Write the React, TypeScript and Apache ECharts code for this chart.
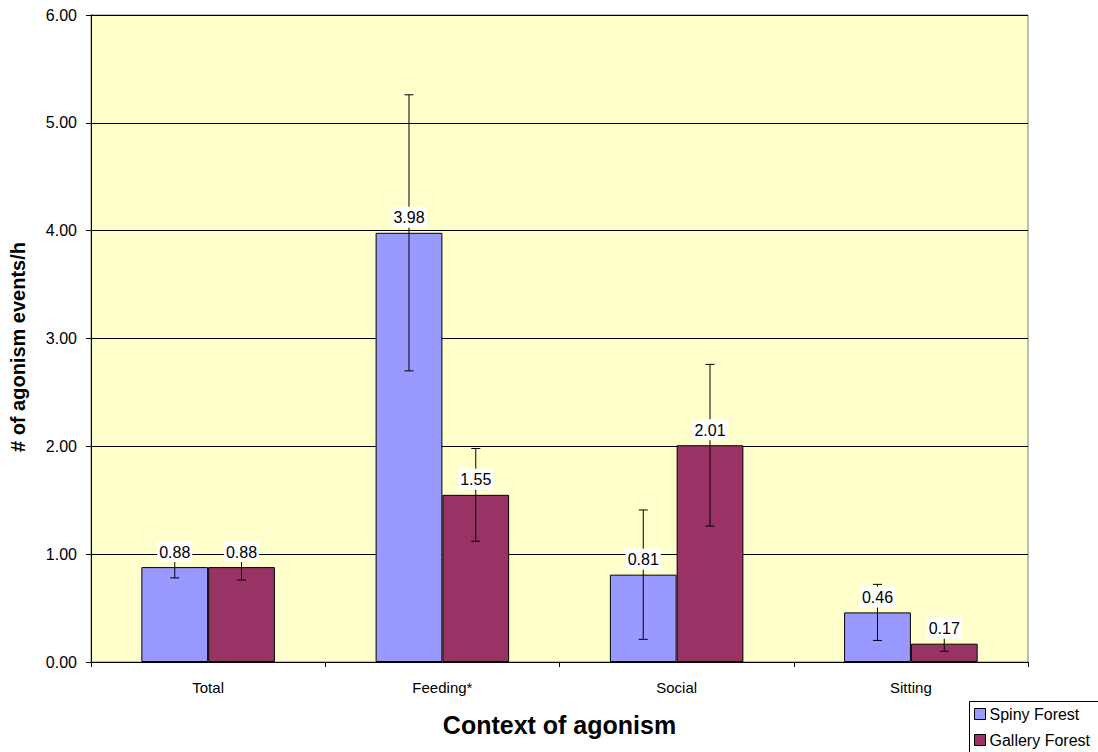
import React, { useEffect, useRef } from "react";
import * as echarts from "echarts";

const categories = ["Total", "Feeding*", "Social", "Sitting"];
const spinyValues = [0.88, 3.98, 0.81, 0.46];
const galleryValues = [0.88, 1.55, 2.01, 0.17];
const spinyErrors = [0.1, 1.28, 0.6, 0.26];
const galleryErrors = [0.12, 0.43, 0.75, 0.07];
const seriesNames = ["Spiny Forest", "Gallery Forest"];
const colors = ["#9999FF", "#993366"];
const yTitle = "# of agonism events/h";
const xTitle = "Context of agonism";

const CAT_GAP = 0.43;
const FONT = "'Liberation Sans', Arial, sans-serif";

export default function App() {
  const ref = useRef<HTMLDivElement>(null);
  useEffect(() => {
    if (!ref.current) return;
    const chart = echarts.init(ref.current, undefined, { renderer: "svg" });
    const errData: any[] = [];
    [spinyValues, galleryValues].forEach((vals, si) => {
      const errs = si === 0 ? spinyErrors : galleryErrors;
      vals.forEach((v, i) => errData.push([i, v, errs[i], si]));
    });
    const renderItem = (params: any, api: any) => {
      const ci = api.value(0);
      const v = api.value(1);
      const e = api.value(2);
      const si = api.value(3);
      const band = api.size([1, 0])[0];
      const bw = (band * (1 - CAT_GAP)) / 2;
      const center = api.coord([ci, v]);
      const x = center[0] + (si === 0 ? -bw / 2 : bw / 2);
      const yTop = api.coord([ci, v + e])[1];
      const yBot = api.coord([ci, v - e])[1];
      const yv = center[1];
      const cap = 4.5;
      const ls = { stroke: "#000", lineWidth: 1 };
      return {
        type: "group",
        children: [
          { type: "line", shape: { x1: x, y1: yTop, x2: x, y2: yBot }, style: ls },
          { type: "line", shape: { x1: x - cap, y1: yTop, x2: x + cap, y2: yTop }, style: ls },
          { type: "line", shape: { x1: x - cap, y1: yBot, x2: x + cap, y2: yBot }, style: ls },
          {
            type: "text",
            x: x,
            y: yv - 5,
            style: {
              text: v.toFixed(2),
              fill: "#000",
              fontSize: 16,
              fontFamily: FONT,
              align: "center",
              verticalAlign: "bottom",
              backgroundColor: "#ffffff",
              padding: [3, 2, 2, 2],
            },
          },
        ],
      };
    };
    chart.setOption({
      animation: false,
      textStyle: { fontFamily: FONT },
      grid: {
        left: 91,
        right: 70,
        top: 15,
        bottom: 90,
        show: true,
        backgroundColor: "#FFFFCC",
        borderColor: "#808080",
        borderWidth: 1,
      },
      graphic: [
        {
          type: "text",
          x: 18,
          y: 347,
          rotation: Math.PI / 2,
          style: {
            text: yTitle,
            fill: "#000",
            fontSize: 20,
            fontWeight: "bold",
            fontFamily: FONT,
            align: "center",
            verticalAlign: "middle",
          },
        },
        {
          type: "rect",
          z: 0,
          shape: { x: 969.5, y: 701.5, width: 140, height: 60 },
          style: { fill: "#fff", stroke: "#000", lineWidth: 1 },
        },
      ],
      legend: {
        orient: "vertical",
        left: 969,
        top: 701,
        z: 10,
        data: seriesNames,
        itemWidth: 11,
        itemHeight: 11,
        itemGap: 10,
        padding: [5, 10, 0, 5],
        icon: "rect",
        itemStyle: { borderColor: "#000", borderWidth: 1 },
        textStyle: { fontSize: 16, color: "#000", fontFamily: FONT, padding: [0, 0, 0, -1] },
      },
      xAxis: {
        type: "category",
        data: categories,
        name: xTitle,
        nameLocation: "middle",
        nameGap: 50,
        nameTextStyle: { fontSize: 25, fontWeight: "bold", color: "#000", fontFamily: FONT },
        axisLine: { lineStyle: { color: "#000" } },
        axisTick: { show: true, length: 5, lineStyle: { color: "#000" } },
        axisLabel: { margin: 18, fontSize: 15, color: "#000", fontFamily: FONT },
      },
      yAxis: {
        type: "value",
        min: 0,
        max: 6,
        interval: 1,
        axisLine: { show: true, lineStyle: { color: "#000" } },
        axisTick: { show: true, length: 5, lineStyle: { color: "#000" } },
        axisLabel: {
          margin: 14,
          fontSize: 16,
          color: "#000",
          fontFamily: FONT,
          formatter: (v: number) => v.toFixed(2),
        },
        splitLine: { show: true, lineStyle: { color: "#000", width: 1 } },
      },
      series: [
        {
          name: seriesNames[0],
          type: "bar",
          data: spinyValues,
          barGap: "0%",
          barCategoryGap: CAT_GAP * 100 + "%",
          itemStyle: { color: colors[0], borderColor: "#000", borderWidth: 1 },
          z: 2,
        },
        {
          name: seriesNames[1],
          type: "bar",
          data: galleryValues,
          barGap: "0%",
          barCategoryGap: CAT_GAP * 100 + "%",
          itemStyle: { color: colors[1], borderColor: "#000", borderWidth: 1 },
          z: 2,
        },
        {
          type: "custom",
          renderItem,
          data: errData,
          encode: { x: 0, y: 1 },
          z: 5,
          silent: true,
        },
      ],
    });
    return () => chart.dispose();
  }, []);
  return (
    <div
      ref={ref}
      style={{ position: "fixed", left: 0, top: 0, width: 1098, height: 752, background: "#fff" }}
    />
  );
}
